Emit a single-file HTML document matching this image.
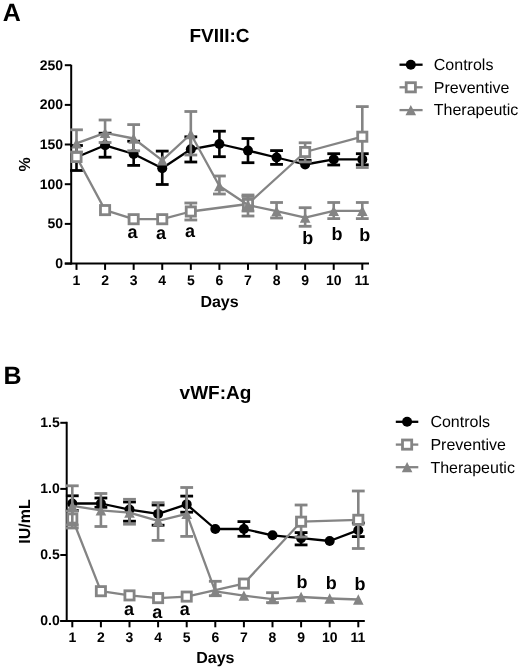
<!DOCTYPE html>
<html><head><meta charset="utf-8"><style>
html,body{margin:0;padding:0;background:#fff;}
body{width:520px;height:670px;overflow:hidden;filter:grayscale(1);}
svg{display:block;font-family:"Liberation Sans",sans-serif;text-rendering:geometricPrecision;}
</style></head><body>
<svg width="520" height="670" viewBox="0 0 520 670">
<rect width="520" height="670" fill="#fff"/>
<text x="2.80" y="20.80" font-size="25" font-weight="bold" text-anchor="start" >A</text>
<text x="219.50" y="41.50" font-size="19" font-weight="bold" text-anchor="middle" >FVIII:C</text>
<line x1="71.20" y1="64.80" x2="71.20" y2="264.60" stroke="#000" stroke-width="2.0" stroke-linecap="butt"/>
<line x1="64.80" y1="263.60" x2="369.00" y2="263.60" stroke="#000" stroke-width="2.0" stroke-linecap="butt"/>
<line x1="64.80" y1="65.20" x2="71.20" y2="65.20" stroke="#000" stroke-width="2.0" stroke-linecap="butt"/>
<text x="63.00" y="69.60" font-size="14" font-weight="bold" text-anchor="end" >250</text>
<line x1="64.80" y1="104.90" x2="71.20" y2="104.90" stroke="#000" stroke-width="2.0" stroke-linecap="butt"/>
<text x="63.00" y="109.30" font-size="14" font-weight="bold" text-anchor="end" >200</text>
<line x1="64.80" y1="144.50" x2="71.20" y2="144.50" stroke="#000" stroke-width="2.0" stroke-linecap="butt"/>
<text x="63.00" y="148.90" font-size="14" font-weight="bold" text-anchor="end" >150</text>
<line x1="64.80" y1="184.20" x2="71.20" y2="184.20" stroke="#000" stroke-width="2.0" stroke-linecap="butt"/>
<text x="63.00" y="188.60" font-size="14" font-weight="bold" text-anchor="end" >100</text>
<line x1="64.80" y1="223.90" x2="71.20" y2="223.90" stroke="#000" stroke-width="2.0" stroke-linecap="butt"/>
<text x="63.00" y="228.30" font-size="14" font-weight="bold" text-anchor="end" >50</text>
<line x1="64.80" y1="263.60" x2="71.20" y2="263.60" stroke="#000" stroke-width="2.0" stroke-linecap="butt"/>
<text x="63.00" y="268.00" font-size="14" font-weight="bold" text-anchor="end" >0</text>
<line x1="76.50" y1="263.60" x2="76.50" y2="269.90" stroke="#000" stroke-width="2.0" stroke-linecap="butt"/>
<text x="76.50" y="284.60" font-size="14" font-weight="bold" text-anchor="middle" >1</text>
<line x1="105.08" y1="263.60" x2="105.08" y2="269.90" stroke="#000" stroke-width="2.0" stroke-linecap="butt"/>
<text x="105.08" y="284.60" font-size="14" font-weight="bold" text-anchor="middle" >2</text>
<line x1="133.66" y1="263.60" x2="133.66" y2="269.90" stroke="#000" stroke-width="2.0" stroke-linecap="butt"/>
<text x="133.66" y="284.60" font-size="14" font-weight="bold" text-anchor="middle" >3</text>
<line x1="162.24" y1="263.60" x2="162.24" y2="269.90" stroke="#000" stroke-width="2.0" stroke-linecap="butt"/>
<text x="162.24" y="284.60" font-size="14" font-weight="bold" text-anchor="middle" >4</text>
<line x1="190.82" y1="263.60" x2="190.82" y2="269.90" stroke="#000" stroke-width="2.0" stroke-linecap="butt"/>
<text x="190.82" y="284.60" font-size="14" font-weight="bold" text-anchor="middle" >5</text>
<line x1="219.40" y1="263.60" x2="219.40" y2="269.90" stroke="#000" stroke-width="2.0" stroke-linecap="butt"/>
<text x="219.40" y="284.60" font-size="14" font-weight="bold" text-anchor="middle" >6</text>
<line x1="247.98" y1="263.60" x2="247.98" y2="269.90" stroke="#000" stroke-width="2.0" stroke-linecap="butt"/>
<text x="247.98" y="284.60" font-size="14" font-weight="bold" text-anchor="middle" >7</text>
<line x1="276.56" y1="263.60" x2="276.56" y2="269.90" stroke="#000" stroke-width="2.0" stroke-linecap="butt"/>
<text x="276.56" y="284.60" font-size="14" font-weight="bold" text-anchor="middle" >8</text>
<line x1="305.14" y1="263.60" x2="305.14" y2="269.90" stroke="#000" stroke-width="2.0" stroke-linecap="butt"/>
<text x="305.14" y="284.60" font-size="14" font-weight="bold" text-anchor="middle" >9</text>
<line x1="333.72" y1="263.60" x2="333.72" y2="269.90" stroke="#000" stroke-width="2.0" stroke-linecap="butt"/>
<text x="333.72" y="284.60" font-size="14" font-weight="bold" text-anchor="middle" >10</text>
<line x1="362.30" y1="263.60" x2="362.30" y2="269.90" stroke="#000" stroke-width="2.0" stroke-linecap="butt"/>
<text x="361.90" y="284.60" font-size="14" font-weight="bold" text-anchor="middle" >11</text>
<text x="219.50" y="306.80" font-size="16" font-weight="bold" text-anchor="middle" >Days</text>
<text x="0" y="0" font-size="16" font-weight="bold" text-anchor="middle" transform="translate(29.50,164.30) rotate(-90)">%</text>
<line x1="76.50" y1="145.50" x2="76.50" y2="170.50" stroke="#000" stroke-width="2.6" stroke-linecap="butt"/>
<line x1="70.10" y1="145.50" x2="82.90" y2="145.50" stroke="#000" stroke-width="2.8" stroke-linecap="butt"/>
<line x1="70.10" y1="170.50" x2="82.90" y2="170.50" stroke="#000" stroke-width="2.8" stroke-linecap="butt"/>
<line x1="105.08" y1="133.20" x2="105.08" y2="157.20" stroke="#000" stroke-width="2.6" stroke-linecap="butt"/>
<line x1="98.68" y1="133.20" x2="111.48" y2="133.20" stroke="#000" stroke-width="2.8" stroke-linecap="butt"/>
<line x1="98.68" y1="157.20" x2="111.48" y2="157.20" stroke="#000" stroke-width="2.8" stroke-linecap="butt"/>
<line x1="133.66" y1="141.20" x2="133.66" y2="165.40" stroke="#000" stroke-width="2.6" stroke-linecap="butt"/>
<line x1="127.26" y1="141.20" x2="140.06" y2="141.20" stroke="#000" stroke-width="2.8" stroke-linecap="butt"/>
<line x1="127.26" y1="165.40" x2="140.06" y2="165.40" stroke="#000" stroke-width="2.8" stroke-linecap="butt"/>
<line x1="162.24" y1="151.10" x2="162.24" y2="184.50" stroke="#000" stroke-width="2.6" stroke-linecap="butt"/>
<line x1="155.84" y1="151.10" x2="168.64" y2="151.10" stroke="#000" stroke-width="2.8" stroke-linecap="butt"/>
<line x1="155.84" y1="184.50" x2="168.64" y2="184.50" stroke="#000" stroke-width="2.8" stroke-linecap="butt"/>
<line x1="190.82" y1="136.80" x2="190.82" y2="162.00" stroke="#000" stroke-width="2.6" stroke-linecap="butt"/>
<line x1="184.42" y1="136.80" x2="197.22" y2="136.80" stroke="#000" stroke-width="2.8" stroke-linecap="butt"/>
<line x1="184.42" y1="162.00" x2="197.22" y2="162.00" stroke="#000" stroke-width="2.8" stroke-linecap="butt"/>
<line x1="219.40" y1="131.20" x2="219.40" y2="156.70" stroke="#000" stroke-width="2.6" stroke-linecap="butt"/>
<line x1="213.00" y1="131.20" x2="225.80" y2="131.20" stroke="#000" stroke-width="2.8" stroke-linecap="butt"/>
<line x1="213.00" y1="156.70" x2="225.80" y2="156.70" stroke="#000" stroke-width="2.8" stroke-linecap="butt"/>
<line x1="247.98" y1="138.50" x2="247.98" y2="162.70" stroke="#000" stroke-width="2.6" stroke-linecap="butt"/>
<line x1="241.58" y1="138.50" x2="254.38" y2="138.50" stroke="#000" stroke-width="2.8" stroke-linecap="butt"/>
<line x1="241.58" y1="162.70" x2="254.38" y2="162.70" stroke="#000" stroke-width="2.8" stroke-linecap="butt"/>
<line x1="276.56" y1="150.60" x2="276.56" y2="164.40" stroke="#000" stroke-width="2.6" stroke-linecap="butt"/>
<line x1="270.16" y1="150.60" x2="282.96" y2="150.60" stroke="#000" stroke-width="2.8" stroke-linecap="butt"/>
<line x1="270.16" y1="164.40" x2="282.96" y2="164.40" stroke="#000" stroke-width="2.8" stroke-linecap="butt"/>
<line x1="305.14" y1="160.30" x2="305.14" y2="164.50" stroke="#000" stroke-width="2.6" stroke-linecap="butt"/>
<line x1="298.74" y1="160.30" x2="311.54" y2="160.30" stroke="#000" stroke-width="2.8" stroke-linecap="butt"/>
<line x1="333.72" y1="153.70" x2="333.72" y2="165.00" stroke="#000" stroke-width="2.6" stroke-linecap="butt"/>
<line x1="327.32" y1="153.70" x2="340.12" y2="153.70" stroke="#000" stroke-width="2.8" stroke-linecap="butt"/>
<line x1="327.32" y1="165.00" x2="340.12" y2="165.00" stroke="#000" stroke-width="2.8" stroke-linecap="butt"/>
<line x1="362.30" y1="153.70" x2="362.30" y2="164.80" stroke="#000" stroke-width="2.6" stroke-linecap="butt"/>
<line x1="355.90" y1="153.70" x2="368.70" y2="153.70" stroke="#000" stroke-width="2.8" stroke-linecap="butt"/>
<line x1="355.90" y1="164.80" x2="368.70" y2="164.80" stroke="#000" stroke-width="2.8" stroke-linecap="butt"/>
<polyline points="76.50,157.30 105.08,145.30 133.66,154.00 162.24,168.30 190.82,149.30 219.40,144.00 247.98,150.60 276.56,157.50 305.14,164.50 333.72,159.40 362.30,159.40" fill="none" stroke="#000" stroke-width="2.3" stroke-linejoin="round"/>
<circle cx="76.50" cy="157.30" r="5.0" fill="#000"/>
<circle cx="105.08" cy="145.30" r="5.0" fill="#000"/>
<circle cx="133.66" cy="154.00" r="5.0" fill="#000"/>
<circle cx="162.24" cy="168.30" r="5.0" fill="#000"/>
<circle cx="190.82" cy="149.30" r="5.0" fill="#000"/>
<circle cx="219.40" cy="144.00" r="5.0" fill="#000"/>
<circle cx="247.98" cy="150.60" r="5.0" fill="#000"/>
<circle cx="276.56" cy="157.50" r="5.0" fill="#000"/>
<circle cx="305.14" cy="164.50" r="5.0" fill="#000"/>
<circle cx="333.72" cy="159.40" r="5.0" fill="#000"/>
<circle cx="362.30" cy="159.40" r="5.0" fill="#000"/>
<line x1="190.82" y1="203.00" x2="190.82" y2="220.00" stroke="#848484" stroke-width="2.6" stroke-linecap="butt"/>
<line x1="184.42" y1="203.00" x2="197.22" y2="203.00" stroke="#848484" stroke-width="2.8" stroke-linecap="butt"/>
<line x1="184.42" y1="220.00" x2="197.22" y2="220.00" stroke="#848484" stroke-width="2.8" stroke-linecap="butt"/>
<line x1="247.98" y1="196.50" x2="247.98" y2="211.00" stroke="#848484" stroke-width="2.6" stroke-linecap="butt"/>
<line x1="241.58" y1="196.50" x2="254.38" y2="196.50" stroke="#848484" stroke-width="2.8" stroke-linecap="butt"/>
<line x1="241.58" y1="211.00" x2="254.38" y2="211.00" stroke="#848484" stroke-width="2.8" stroke-linecap="butt"/>
<line x1="305.14" y1="142.80" x2="305.14" y2="161.90" stroke="#848484" stroke-width="2.6" stroke-linecap="butt"/>
<line x1="298.74" y1="142.80" x2="311.54" y2="142.80" stroke="#848484" stroke-width="2.8" stroke-linecap="butt"/>
<line x1="298.74" y1="161.90" x2="311.54" y2="161.90" stroke="#848484" stroke-width="2.8" stroke-linecap="butt"/>
<line x1="362.30" y1="106.60" x2="362.30" y2="167.50" stroke="#848484" stroke-width="2.6" stroke-linecap="butt"/>
<line x1="355.90" y1="106.60" x2="368.70" y2="106.60" stroke="#848484" stroke-width="2.8" stroke-linecap="butt"/>
<line x1="355.90" y1="167.50" x2="368.70" y2="167.50" stroke="#848484" stroke-width="2.8" stroke-linecap="butt"/>
<polyline points="76.50,157.00 105.08,210.10 133.66,219.20 162.24,219.20 190.82,211.50 247.98,204.00 305.14,152.00 362.30,136.70" fill="none" stroke="#848484" stroke-width="2.3" stroke-linejoin="round"/>
<rect x="71.90" y="152.40" width="9.20" height="9.20" fill="#fff" stroke="#848484" stroke-width="2.8"/>
<rect x="100.48" y="205.50" width="9.20" height="9.20" fill="#fff" stroke="#848484" stroke-width="2.8"/>
<rect x="129.06" y="214.60" width="9.20" height="9.20" fill="#fff" stroke="#848484" stroke-width="2.8"/>
<rect x="157.64" y="214.60" width="9.20" height="9.20" fill="#fff" stroke="#848484" stroke-width="2.8"/>
<rect x="186.22" y="206.90" width="9.20" height="9.20" fill="#fff" stroke="#848484" stroke-width="2.8"/>
<rect x="243.38" y="199.40" width="9.20" height="9.20" fill="#fff" stroke="#848484" stroke-width="2.8"/>
<rect x="300.54" y="147.40" width="9.20" height="9.20" fill="#fff" stroke="#848484" stroke-width="2.8"/>
<rect x="357.70" y="132.10" width="9.20" height="9.20" fill="#fff" stroke="#848484" stroke-width="2.8"/>
<line x1="76.50" y1="129.80" x2="76.50" y2="152.00" stroke="#848484" stroke-width="2.6" stroke-linecap="butt"/>
<line x1="70.10" y1="129.80" x2="82.90" y2="129.80" stroke="#848484" stroke-width="2.8" stroke-linecap="butt"/>
<line x1="70.10" y1="152.00" x2="82.90" y2="152.00" stroke="#848484" stroke-width="2.8" stroke-linecap="butt"/>
<line x1="105.08" y1="120.00" x2="105.08" y2="142.50" stroke="#848484" stroke-width="2.6" stroke-linecap="butt"/>
<line x1="98.68" y1="120.00" x2="111.48" y2="120.00" stroke="#848484" stroke-width="2.8" stroke-linecap="butt"/>
<line x1="98.68" y1="142.50" x2="111.48" y2="142.50" stroke="#848484" stroke-width="2.8" stroke-linecap="butt"/>
<line x1="133.66" y1="124.60" x2="133.66" y2="150.80" stroke="#848484" stroke-width="2.6" stroke-linecap="butt"/>
<line x1="127.26" y1="124.60" x2="140.06" y2="124.60" stroke="#848484" stroke-width="2.8" stroke-linecap="butt"/>
<line x1="127.26" y1="150.80" x2="140.06" y2="150.80" stroke="#848484" stroke-width="2.8" stroke-linecap="butt"/>
<line x1="190.82" y1="111.50" x2="190.82" y2="155.00" stroke="#848484" stroke-width="2.6" stroke-linecap="butt"/>
<line x1="184.42" y1="111.50" x2="197.22" y2="111.50" stroke="#848484" stroke-width="2.8" stroke-linecap="butt"/>
<line x1="184.42" y1="155.00" x2="197.22" y2="155.00" stroke="#848484" stroke-width="2.8" stroke-linecap="butt"/>
<line x1="219.40" y1="176.00" x2="219.40" y2="194.00" stroke="#848484" stroke-width="2.6" stroke-linecap="butt"/>
<line x1="213.00" y1="176.00" x2="225.80" y2="176.00" stroke="#848484" stroke-width="2.8" stroke-linecap="butt"/>
<line x1="213.00" y1="194.00" x2="225.80" y2="194.00" stroke="#848484" stroke-width="2.8" stroke-linecap="butt"/>
<line x1="247.98" y1="195.00" x2="247.98" y2="216.00" stroke="#848484" stroke-width="2.6" stroke-linecap="butt"/>
<line x1="241.58" y1="195.00" x2="254.38" y2="195.00" stroke="#848484" stroke-width="2.8" stroke-linecap="butt"/>
<line x1="241.58" y1="216.00" x2="254.38" y2="216.00" stroke="#848484" stroke-width="2.8" stroke-linecap="butt"/>
<line x1="276.56" y1="202.50" x2="276.56" y2="218.00" stroke="#848484" stroke-width="2.6" stroke-linecap="butt"/>
<line x1="270.16" y1="202.50" x2="282.96" y2="202.50" stroke="#848484" stroke-width="2.8" stroke-linecap="butt"/>
<line x1="270.16" y1="218.00" x2="282.96" y2="218.00" stroke="#848484" stroke-width="2.8" stroke-linecap="butt"/>
<line x1="305.14" y1="207.70" x2="305.14" y2="226.30" stroke="#848484" stroke-width="2.6" stroke-linecap="butt"/>
<line x1="298.74" y1="207.70" x2="311.54" y2="207.70" stroke="#848484" stroke-width="2.8" stroke-linecap="butt"/>
<line x1="298.74" y1="226.30" x2="311.54" y2="226.30" stroke="#848484" stroke-width="2.8" stroke-linecap="butt"/>
<line x1="333.72" y1="202.50" x2="333.72" y2="218.60" stroke="#848484" stroke-width="2.6" stroke-linecap="butt"/>
<line x1="327.32" y1="202.50" x2="340.12" y2="202.50" stroke="#848484" stroke-width="2.8" stroke-linecap="butt"/>
<line x1="327.32" y1="218.60" x2="340.12" y2="218.60" stroke="#848484" stroke-width="2.8" stroke-linecap="butt"/>
<line x1="362.30" y1="202.50" x2="362.30" y2="218.60" stroke="#848484" stroke-width="2.6" stroke-linecap="butt"/>
<line x1="355.90" y1="202.50" x2="368.70" y2="202.50" stroke="#848484" stroke-width="2.8" stroke-linecap="butt"/>
<line x1="355.90" y1="218.60" x2="368.70" y2="218.60" stroke="#848484" stroke-width="2.8" stroke-linecap="butt"/>
<polyline points="76.50,143.30 105.08,132.80 133.66,138.50 162.24,160.30 190.82,134.00 219.40,186.00 247.98,205.00 276.56,211.20 305.14,217.70 333.72,210.80 362.30,210.80" fill="none" stroke="#848484" stroke-width="2.3" stroke-linejoin="round"/>
<polygon points="76.50,138.15 71.20,148.45 81.80,148.45" fill="#848484"/>
<polygon points="105.08,127.65 99.78,137.95 110.38,137.95" fill="#848484"/>
<polygon points="133.66,133.35 128.36,143.65 138.96,143.65" fill="#848484"/>
<polygon points="162.24,155.15 156.94,165.45 167.54,165.45" fill="#848484"/>
<polygon points="190.82,128.85 185.52,139.15 196.12,139.15" fill="#848484"/>
<polygon points="219.40,180.85 214.10,191.15 224.70,191.15" fill="#848484"/>
<polygon points="247.98,199.85 242.68,210.15 253.28,210.15" fill="#848484"/>
<polygon points="276.56,206.05 271.26,216.35 281.86,216.35" fill="#848484"/>
<polygon points="305.14,212.55 299.84,222.85 310.44,222.85" fill="#848484"/>
<polygon points="333.72,205.65 328.42,215.95 339.02,215.95" fill="#848484"/>
<polygon points="362.30,205.65 357.00,215.95 367.60,215.95" fill="#848484"/>
<text x="132.50" y="238.00" font-size="18" font-weight="bold" text-anchor="middle" >a</text>
<text x="161.10" y="239.00" font-size="18" font-weight="bold" text-anchor="middle" >a</text>
<text x="190.00" y="236.80" font-size="18" font-weight="bold" text-anchor="middle" >a</text>
<text x="307.80" y="244.40" font-size="18" font-weight="bold" text-anchor="middle" >b</text>
<text x="337.00" y="239.70" font-size="18" font-weight="bold" text-anchor="middle" >b</text>
<text x="364.80" y="240.60" font-size="18" font-weight="bold" text-anchor="middle" >b</text>
<line x1="399.50" y1="64.70" x2="422.60" y2="64.70" stroke="#000" stroke-width="2.3" stroke-linecap="butt"/>
<circle cx="410.80" cy="64.70" r="5.0" fill="#000"/>
<line x1="399.50" y1="87.30" x2="422.60" y2="87.30" stroke="#848484" stroke-width="2.3" stroke-linecap="butt"/>
<rect x="406.20" y="82.70" width="9.20" height="9.20" fill="#fff" stroke="#848484" stroke-width="2.8"/>
<line x1="399.50" y1="110.10" x2="422.60" y2="110.10" stroke="#848484" stroke-width="2.3" stroke-linecap="butt"/>
<polygon points="410.80,104.95 405.50,115.25 416.10,115.25" fill="#848484"/>
<text x="433.80" y="70.00" font-size="16" font-weight="normal" text-anchor="start" >Controls</text>
<text x="433.80" y="92.60" font-size="16" font-weight="normal" text-anchor="start" >Preventive</text>
<text x="433.80" y="115.40" font-size="16" font-weight="normal" text-anchor="start" >Therapeutic</text>
<text x="3.40" y="384.20" font-size="25" font-weight="bold" text-anchor="start" >B</text>
<text x="215.50" y="399.00" font-size="19" font-weight="bold" text-anchor="middle" >vWF:Ag</text>
<line x1="66.70" y1="421.80" x2="66.70" y2="622.00" stroke="#000" stroke-width="2.0" stroke-linecap="butt"/>
<line x1="60.30" y1="621.00" x2="364.80" y2="621.00" stroke="#000" stroke-width="2.0" stroke-linecap="butt"/>
<line x1="60.30" y1="422.80" x2="66.70" y2="422.80" stroke="#000" stroke-width="2.0" stroke-linecap="butt"/>
<text x="59.70" y="427.20" font-size="14" font-weight="bold" text-anchor="end" >1.5</text>
<line x1="60.30" y1="488.90" x2="66.70" y2="488.90" stroke="#000" stroke-width="2.0" stroke-linecap="butt"/>
<text x="59.70" y="493.30" font-size="14" font-weight="bold" text-anchor="end" >1.0</text>
<line x1="60.30" y1="555.00" x2="66.70" y2="555.00" stroke="#000" stroke-width="2.0" stroke-linecap="butt"/>
<text x="59.70" y="559.40" font-size="14" font-weight="bold" text-anchor="end" >0.5</text>
<line x1="60.30" y1="621.00" x2="66.70" y2="621.00" stroke="#000" stroke-width="2.0" stroke-linecap="butt"/>
<text x="59.70" y="625.40" font-size="14" font-weight="bold" text-anchor="end" >0.0</text>
<line x1="72.30" y1="621.00" x2="72.30" y2="627.30" stroke="#000" stroke-width="2.0" stroke-linecap="butt"/>
<text x="72.30" y="642.30" font-size="14" font-weight="bold" text-anchor="middle" >1</text>
<line x1="100.90" y1="621.00" x2="100.90" y2="627.30" stroke="#000" stroke-width="2.0" stroke-linecap="butt"/>
<text x="100.90" y="642.30" font-size="14" font-weight="bold" text-anchor="middle" >2</text>
<line x1="129.50" y1="621.00" x2="129.50" y2="627.30" stroke="#000" stroke-width="2.0" stroke-linecap="butt"/>
<text x="129.50" y="642.30" font-size="14" font-weight="bold" text-anchor="middle" >3</text>
<line x1="158.10" y1="621.00" x2="158.10" y2="627.30" stroke="#000" stroke-width="2.0" stroke-linecap="butt"/>
<text x="158.10" y="642.30" font-size="14" font-weight="bold" text-anchor="middle" >4</text>
<line x1="186.70" y1="621.00" x2="186.70" y2="627.30" stroke="#000" stroke-width="2.0" stroke-linecap="butt"/>
<text x="186.70" y="642.30" font-size="14" font-weight="bold" text-anchor="middle" >5</text>
<line x1="215.30" y1="621.00" x2="215.30" y2="627.30" stroke="#000" stroke-width="2.0" stroke-linecap="butt"/>
<text x="215.30" y="642.30" font-size="14" font-weight="bold" text-anchor="middle" >6</text>
<line x1="243.90" y1="621.00" x2="243.90" y2="627.30" stroke="#000" stroke-width="2.0" stroke-linecap="butt"/>
<text x="243.90" y="642.30" font-size="14" font-weight="bold" text-anchor="middle" >7</text>
<line x1="272.50" y1="621.00" x2="272.50" y2="627.30" stroke="#000" stroke-width="2.0" stroke-linecap="butt"/>
<text x="272.50" y="642.30" font-size="14" font-weight="bold" text-anchor="middle" >8</text>
<line x1="301.10" y1="621.00" x2="301.10" y2="627.30" stroke="#000" stroke-width="2.0" stroke-linecap="butt"/>
<text x="301.10" y="642.30" font-size="14" font-weight="bold" text-anchor="middle" >9</text>
<line x1="329.70" y1="621.00" x2="329.70" y2="627.30" stroke="#000" stroke-width="2.0" stroke-linecap="butt"/>
<text x="329.70" y="642.30" font-size="14" font-weight="bold" text-anchor="middle" >10</text>
<line x1="358.30" y1="621.00" x2="358.30" y2="627.30" stroke="#000" stroke-width="2.0" stroke-linecap="butt"/>
<text x="357.90" y="642.30" font-size="14" font-weight="bold" text-anchor="middle" >11</text>
<text x="215.30" y="663.10" font-size="16" font-weight="bold" text-anchor="middle" >Days</text>
<text x="0" y="0" font-size="16" font-weight="bold" text-anchor="middle" transform="translate(29.50,521.50) rotate(-90)">IU/mL</text>
<line x1="72.30" y1="495.80" x2="72.30" y2="510.40" stroke="#000" stroke-width="2.6" stroke-linecap="butt"/>
<line x1="65.90" y1="495.80" x2="78.70" y2="495.80" stroke="#000" stroke-width="2.8" stroke-linecap="butt"/>
<line x1="65.90" y1="510.40" x2="78.70" y2="510.40" stroke="#000" stroke-width="2.8" stroke-linecap="butt"/>
<line x1="100.90" y1="498.00" x2="100.90" y2="507.30" stroke="#000" stroke-width="2.6" stroke-linecap="butt"/>
<line x1="94.50" y1="498.00" x2="107.30" y2="498.00" stroke="#000" stroke-width="2.8" stroke-linecap="butt"/>
<line x1="94.50" y1="507.30" x2="107.30" y2="507.30" stroke="#000" stroke-width="2.8" stroke-linecap="butt"/>
<line x1="129.50" y1="502.00" x2="129.50" y2="521.20" stroke="#000" stroke-width="2.6" stroke-linecap="butt"/>
<line x1="123.10" y1="502.00" x2="135.90" y2="502.00" stroke="#000" stroke-width="2.8" stroke-linecap="butt"/>
<line x1="123.10" y1="521.20" x2="135.90" y2="521.20" stroke="#000" stroke-width="2.8" stroke-linecap="butt"/>
<line x1="158.10" y1="505.00" x2="158.10" y2="525.20" stroke="#000" stroke-width="2.6" stroke-linecap="butt"/>
<line x1="151.70" y1="505.00" x2="164.50" y2="505.00" stroke="#000" stroke-width="2.8" stroke-linecap="butt"/>
<line x1="151.70" y1="525.20" x2="164.50" y2="525.20" stroke="#000" stroke-width="2.8" stroke-linecap="butt"/>
<line x1="186.70" y1="496.10" x2="186.70" y2="512.20" stroke="#000" stroke-width="2.6" stroke-linecap="butt"/>
<line x1="180.30" y1="496.10" x2="193.10" y2="496.10" stroke="#000" stroke-width="2.8" stroke-linecap="butt"/>
<line x1="180.30" y1="512.20" x2="193.10" y2="512.20" stroke="#000" stroke-width="2.8" stroke-linecap="butt"/>
<line x1="243.90" y1="521.60" x2="243.90" y2="536.30" stroke="#000" stroke-width="2.6" stroke-linecap="butt"/>
<line x1="237.50" y1="521.60" x2="250.30" y2="521.60" stroke="#000" stroke-width="2.8" stroke-linecap="butt"/>
<line x1="237.50" y1="536.30" x2="250.30" y2="536.30" stroke="#000" stroke-width="2.8" stroke-linecap="butt"/>
<line x1="301.10" y1="532.60" x2="301.10" y2="544.90" stroke="#000" stroke-width="2.6" stroke-linecap="butt"/>
<line x1="294.70" y1="532.60" x2="307.50" y2="532.60" stroke="#000" stroke-width="2.8" stroke-linecap="butt"/>
<line x1="294.70" y1="544.90" x2="307.50" y2="544.90" stroke="#000" stroke-width="2.8" stroke-linecap="butt"/>
<line x1="358.30" y1="523.00" x2="358.30" y2="536.60" stroke="#000" stroke-width="2.6" stroke-linecap="butt"/>
<line x1="351.90" y1="523.00" x2="364.70" y2="523.00" stroke="#000" stroke-width="2.8" stroke-linecap="butt"/>
<line x1="351.90" y1="536.60" x2="364.70" y2="536.60" stroke="#000" stroke-width="2.8" stroke-linecap="butt"/>
<polyline points="72.30,503.50 100.90,503.50 129.50,509.60 158.10,513.90 186.70,504.40 215.30,529.00 243.90,529.00 272.50,535.30 301.10,538.10 329.70,541.00 358.30,530.20" fill="none" stroke="#000" stroke-width="2.3" stroke-linejoin="round"/>
<circle cx="72.30" cy="503.50" r="5.0" fill="#000"/>
<circle cx="100.90" cy="503.50" r="5.0" fill="#000"/>
<circle cx="129.50" cy="509.60" r="5.0" fill="#000"/>
<circle cx="158.10" cy="513.90" r="5.0" fill="#000"/>
<circle cx="186.70" cy="504.40" r="5.0" fill="#000"/>
<circle cx="215.30" cy="529.00" r="5.0" fill="#000"/>
<circle cx="243.90" cy="529.00" r="5.0" fill="#000"/>
<circle cx="272.50" cy="535.30" r="5.0" fill="#000"/>
<circle cx="301.10" cy="538.10" r="5.0" fill="#000"/>
<circle cx="329.70" cy="541.00" r="5.0" fill="#000"/>
<circle cx="358.30" cy="530.20" r="5.0" fill="#000"/>
<line x1="72.30" y1="511.00" x2="72.30" y2="528.00" stroke="#848484" stroke-width="2.6" stroke-linecap="butt"/>
<line x1="65.90" y1="511.00" x2="78.70" y2="511.00" stroke="#848484" stroke-width="2.8" stroke-linecap="butt"/>
<line x1="65.90" y1="528.00" x2="78.70" y2="528.00" stroke="#848484" stroke-width="2.8" stroke-linecap="butt"/>
<line x1="301.10" y1="505.00" x2="301.10" y2="537.00" stroke="#848484" stroke-width="2.6" stroke-linecap="butt"/>
<line x1="294.70" y1="505.00" x2="307.50" y2="505.00" stroke="#848484" stroke-width="2.8" stroke-linecap="butt"/>
<line x1="294.70" y1="537.00" x2="307.50" y2="537.00" stroke="#848484" stroke-width="2.8" stroke-linecap="butt"/>
<line x1="358.30" y1="491.00" x2="358.30" y2="548.50" stroke="#848484" stroke-width="2.6" stroke-linecap="butt"/>
<line x1="351.90" y1="491.00" x2="364.70" y2="491.00" stroke="#848484" stroke-width="2.8" stroke-linecap="butt"/>
<line x1="351.90" y1="548.50" x2="364.70" y2="548.50" stroke="#848484" stroke-width="2.8" stroke-linecap="butt"/>
<polyline points="72.30,518.50 100.90,591.20 129.50,595.40 158.10,598.10 186.70,596.60 243.90,583.60 301.10,521.70 358.30,519.80" fill="none" stroke="#848484" stroke-width="2.3" stroke-linejoin="round"/>
<rect x="67.70" y="513.90" width="9.20" height="9.20" fill="#fff" stroke="#848484" stroke-width="2.8"/>
<rect x="96.30" y="586.60" width="9.20" height="9.20" fill="#fff" stroke="#848484" stroke-width="2.8"/>
<rect x="124.90" y="590.80" width="9.20" height="9.20" fill="#fff" stroke="#848484" stroke-width="2.8"/>
<rect x="153.50" y="593.50" width="9.20" height="9.20" fill="#fff" stroke="#848484" stroke-width="2.8"/>
<rect x="182.10" y="592.00" width="9.20" height="9.20" fill="#fff" stroke="#848484" stroke-width="2.8"/>
<rect x="239.30" y="579.00" width="9.20" height="9.20" fill="#fff" stroke="#848484" stroke-width="2.8"/>
<rect x="296.50" y="517.10" width="9.20" height="9.20" fill="#fff" stroke="#848484" stroke-width="2.8"/>
<rect x="353.70" y="515.20" width="9.20" height="9.20" fill="#fff" stroke="#848484" stroke-width="2.8"/>
<line x1="72.30" y1="485.80" x2="72.30" y2="525.00" stroke="#848484" stroke-width="2.6" stroke-linecap="butt"/>
<line x1="65.90" y1="485.80" x2="78.70" y2="485.80" stroke="#848484" stroke-width="2.8" stroke-linecap="butt"/>
<line x1="65.90" y1="525.00" x2="78.70" y2="525.00" stroke="#848484" stroke-width="2.8" stroke-linecap="butt"/>
<line x1="100.90" y1="493.50" x2="100.90" y2="526.50" stroke="#848484" stroke-width="2.6" stroke-linecap="butt"/>
<line x1="94.50" y1="493.50" x2="107.30" y2="493.50" stroke="#848484" stroke-width="2.8" stroke-linecap="butt"/>
<line x1="94.50" y1="526.50" x2="107.30" y2="526.50" stroke="#848484" stroke-width="2.8" stroke-linecap="butt"/>
<line x1="129.50" y1="499.30" x2="129.50" y2="524.20" stroke="#848484" stroke-width="2.6" stroke-linecap="butt"/>
<line x1="123.10" y1="499.30" x2="135.90" y2="499.30" stroke="#848484" stroke-width="2.8" stroke-linecap="butt"/>
<line x1="123.10" y1="524.20" x2="135.90" y2="524.20" stroke="#848484" stroke-width="2.8" stroke-linecap="butt"/>
<line x1="158.10" y1="502.70" x2="158.10" y2="540.40" stroke="#848484" stroke-width="2.6" stroke-linecap="butt"/>
<line x1="151.70" y1="502.70" x2="164.50" y2="502.70" stroke="#848484" stroke-width="2.8" stroke-linecap="butt"/>
<line x1="151.70" y1="540.40" x2="164.50" y2="540.40" stroke="#848484" stroke-width="2.8" stroke-linecap="butt"/>
<line x1="186.70" y1="487.50" x2="186.70" y2="536.40" stroke="#848484" stroke-width="2.6" stroke-linecap="butt"/>
<line x1="180.30" y1="487.50" x2="193.10" y2="487.50" stroke="#848484" stroke-width="2.8" stroke-linecap="butt"/>
<line x1="180.30" y1="536.40" x2="193.10" y2="536.40" stroke="#848484" stroke-width="2.8" stroke-linecap="butt"/>
<line x1="215.30" y1="581.30" x2="215.30" y2="595.70" stroke="#848484" stroke-width="2.6" stroke-linecap="butt"/>
<line x1="208.90" y1="581.30" x2="221.70" y2="581.30" stroke="#848484" stroke-width="2.8" stroke-linecap="butt"/>
<line x1="208.90" y1="595.70" x2="221.70" y2="595.70" stroke="#848484" stroke-width="2.8" stroke-linecap="butt"/>
<line x1="272.50" y1="592.70" x2="272.50" y2="602.60" stroke="#848484" stroke-width="2.6" stroke-linecap="butt"/>
<line x1="266.10" y1="592.70" x2="278.90" y2="592.70" stroke="#848484" stroke-width="2.8" stroke-linecap="butt"/>
<line x1="266.10" y1="602.60" x2="278.90" y2="602.60" stroke="#848484" stroke-width="2.8" stroke-linecap="butt"/>
<polyline points="72.30,505.80 100.90,510.40 129.50,512.70 158.10,520.90 186.70,513.90 215.30,591.30 243.90,595.70 272.50,599.10 301.10,597.00 329.70,598.50 358.30,599.50" fill="none" stroke="#848484" stroke-width="2.3" stroke-linejoin="round"/>
<polygon points="72.30,500.65 67.00,510.95 77.60,510.95" fill="#848484"/>
<polygon points="100.90,505.25 95.60,515.55 106.20,515.55" fill="#848484"/>
<polygon points="129.50,507.55 124.20,517.85 134.80,517.85" fill="#848484"/>
<polygon points="158.10,515.75 152.80,526.05 163.40,526.05" fill="#848484"/>
<polygon points="186.70,508.75 181.40,519.05 192.00,519.05" fill="#848484"/>
<polygon points="215.30,586.15 210.00,596.45 220.60,596.45" fill="#848484"/>
<polygon points="243.90,590.55 238.60,600.85 249.20,600.85" fill="#848484"/>
<polygon points="272.50,593.95 267.20,604.25 277.80,604.25" fill="#848484"/>
<polygon points="301.10,591.85 295.80,602.15 306.40,602.15" fill="#848484"/>
<polygon points="329.70,593.35 324.40,603.65 335.00,603.65" fill="#848484"/>
<polygon points="358.30,594.35 353.00,604.65 363.60,604.65" fill="#848484"/>
<text x="129.10" y="614.80" font-size="18" font-weight="bold" text-anchor="middle" >a</text>
<text x="157.20" y="618.00" font-size="18" font-weight="bold" text-anchor="middle" >a</text>
<text x="184.70" y="615.20" font-size="18" font-weight="bold" text-anchor="middle" >a</text>
<text x="301.90" y="587.80" font-size="18" font-weight="bold" text-anchor="middle" >b</text>
<text x="331.20" y="588.90" font-size="18" font-weight="bold" text-anchor="middle" >b</text>
<text x="360.00" y="589.60" font-size="18" font-weight="bold" text-anchor="middle" >b</text>
<line x1="395.80" y1="421.80" x2="418.30" y2="421.80" stroke="#000" stroke-width="2.3" stroke-linecap="butt"/>
<circle cx="407.10" cy="421.80" r="5.0" fill="#000"/>
<line x1="395.80" y1="444.60" x2="418.30" y2="444.60" stroke="#848484" stroke-width="2.3" stroke-linecap="butt"/>
<rect x="402.50" y="440.00" width="9.20" height="9.20" fill="#fff" stroke="#848484" stroke-width="2.8"/>
<line x1="395.80" y1="467.20" x2="418.30" y2="467.20" stroke="#848484" stroke-width="2.3" stroke-linecap="butt"/>
<polygon points="407.10,462.05 401.80,472.35 412.40,472.35" fill="#848484"/>
<text x="430.40" y="427.10" font-size="16" font-weight="normal" text-anchor="start" >Controls</text>
<text x="430.40" y="449.90" font-size="16" font-weight="normal" text-anchor="start" >Preventive</text>
<text x="430.40" y="472.50" font-size="16" font-weight="normal" text-anchor="start" >Therapeutic</text>
</svg>
</body></html>
